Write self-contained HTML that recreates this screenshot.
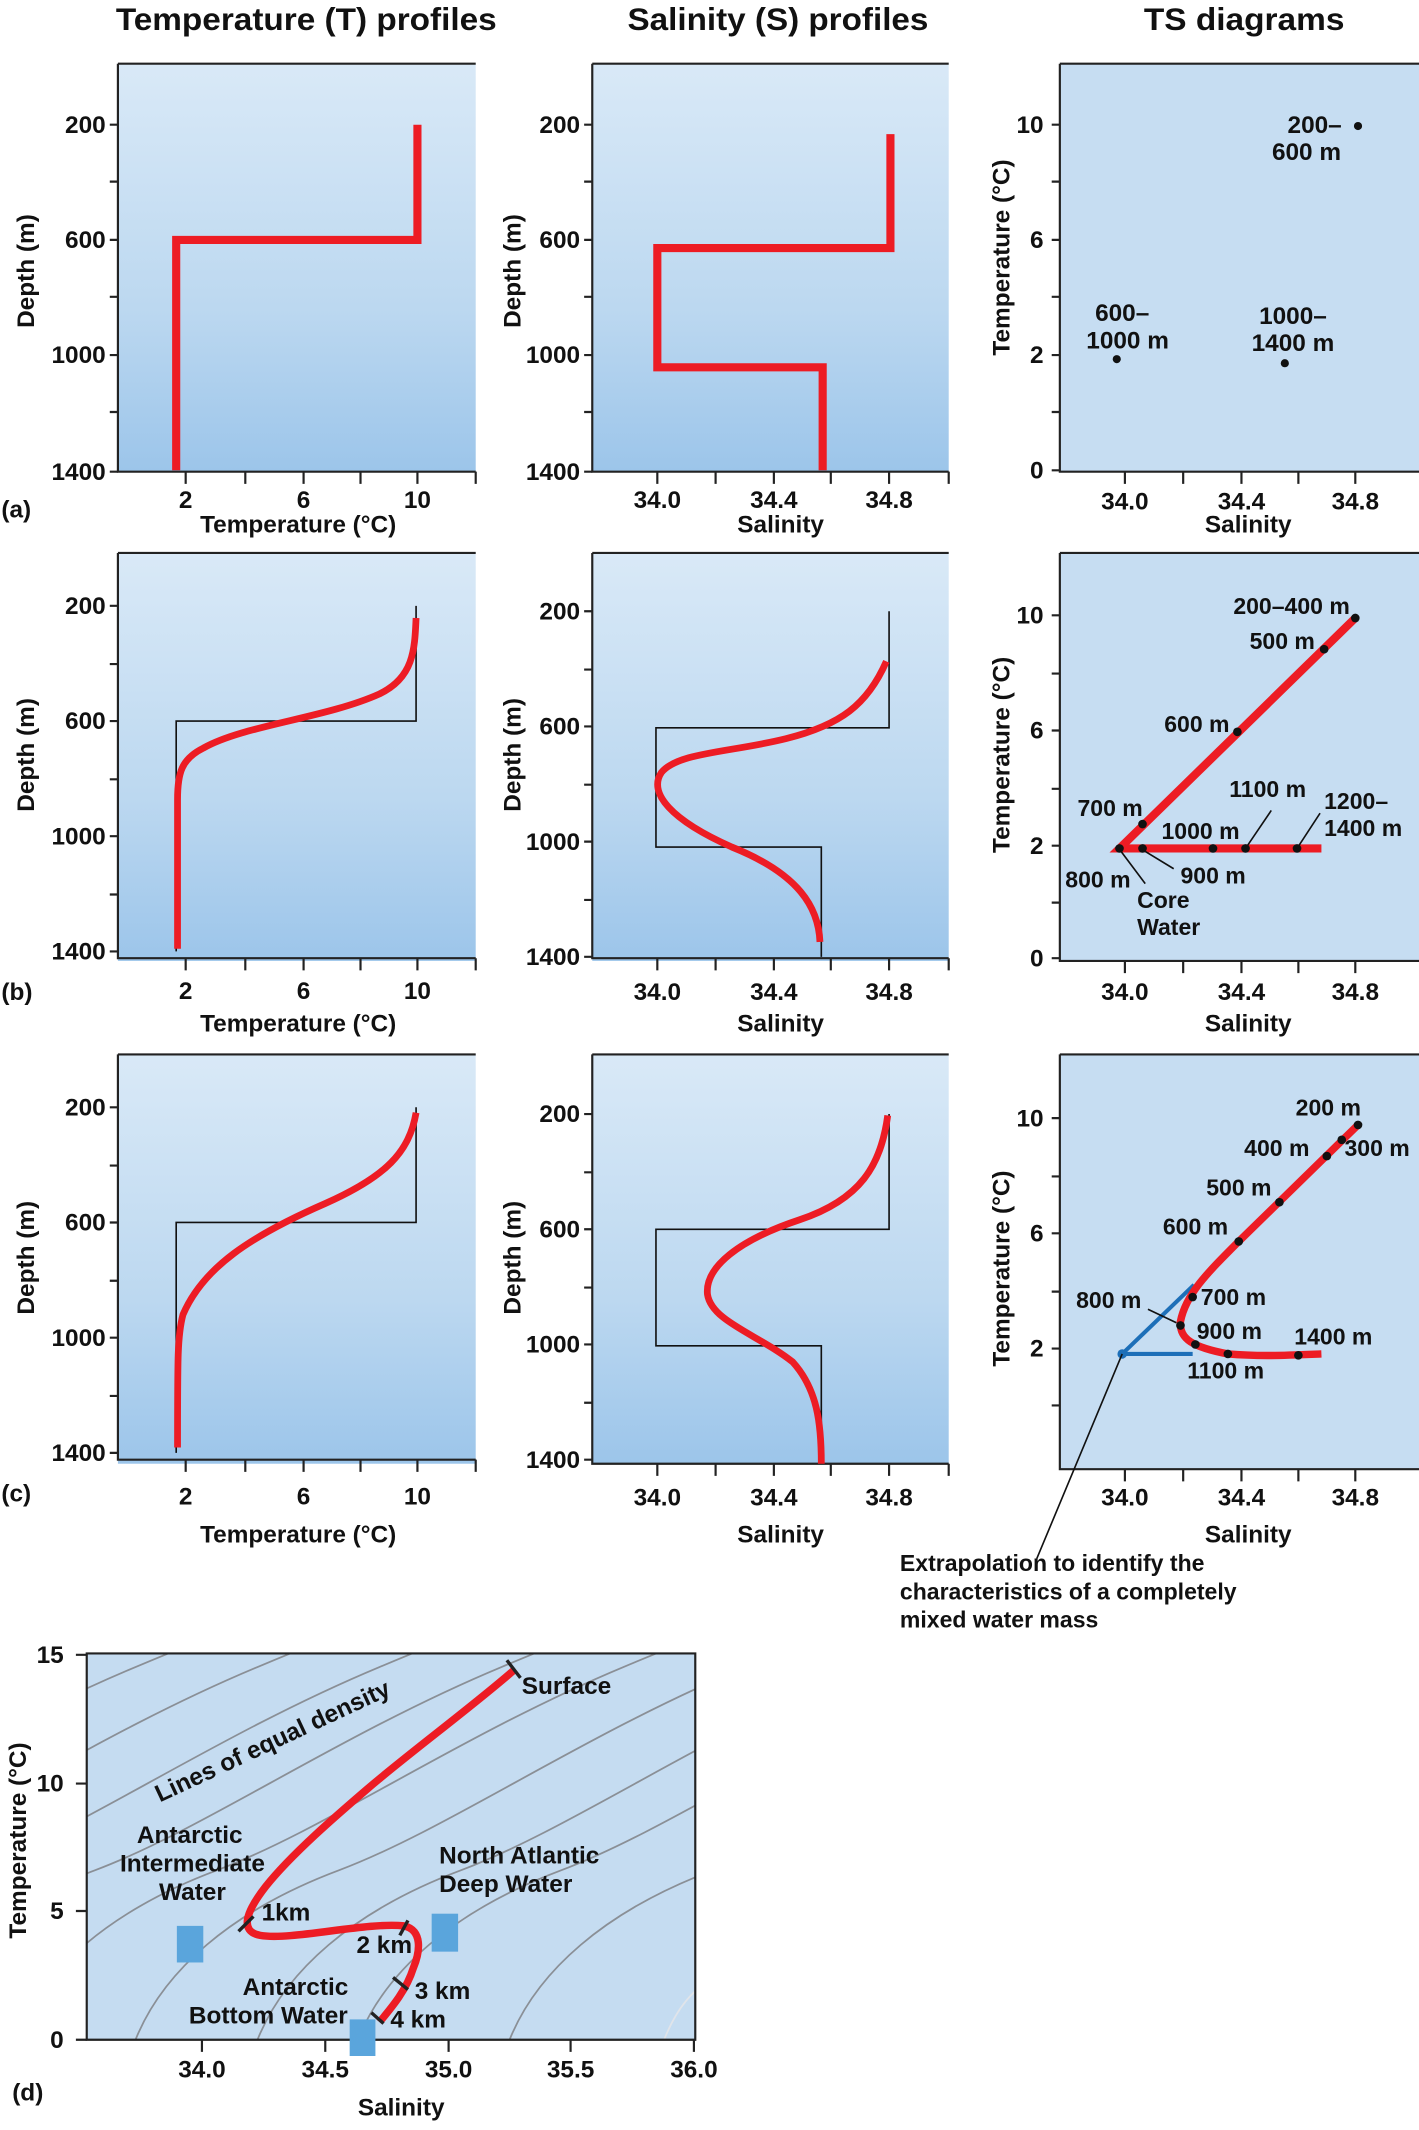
<!DOCTYPE html>
<html><head><meta charset="utf-8"><style>
html,body{margin:0;padding:0;background:#fff;}
svg{display:block;}
text{font-family:"Liberation Sans",sans-serif;font-weight:bold;fill:#111;}
</style></head><body>
<svg width="1419" height="2130" viewBox="0 0 1047 1571.6" xmlns="http://www.w3.org/2000/svg">
<defs>
<linearGradient id="g" x1="0" y1="0" x2="0" y2="1">
<stop offset="0" stop-color="#d9e9f7"/><stop offset="0.6" stop-color="#bcd8f0"/><stop offset="1" stop-color="#9cc5ea"/>
</linearGradient>
<clipPath id="dclip"><rect x="64" y="1220" width="449" height="285"/></clipPath>
</defs>

<text x="226" y="22" font-size="23" text-anchor="middle" textLength="281" lengthAdjust="spacingAndGlyphs">Temperature (T) profiles</text>
<text x="574" y="22" font-size="23" text-anchor="middle" textLength="222" lengthAdjust="spacingAndGlyphs">Salinity (S) profiles</text>
<text x="918" y="22" font-size="23" text-anchor="middle" textLength="148" lengthAdjust="spacingAndGlyphs">TS diagrams</text>

<rect x="87" y="47" width="264" height="301" fill="url(#g)"/>
<rect x="437" y="47" width="263" height="301" fill="url(#g)"/>
<rect x="782" y="47" width="265" height="301" fill="#c6ddf2"/>
<rect x="87" y="408" width="264" height="301" fill="url(#g)"/>
<rect x="437" y="408" width="263" height="301" fill="url(#g)"/>
<rect x="782" y="408" width="265" height="301" fill="#c6ddf2"/>
<rect x="87" y="778" width="264" height="302" fill="url(#g)"/>
<rect x="437" y="778" width="263" height="302" fill="url(#g)"/>
<rect x="782" y="778" width="265" height="306" fill="#c6ddf2"/>

<g stroke="#222" stroke-width="1.6" fill="none">
<path d="M87 47H351 M87 47V348H351 M437 47H700 M437 47V348H700 M782 47H1047 M782 47V348H1047"/>
<path d="M81 92H87M81 134H87M81 177H87M81 219H87M81 262H87M81 304H87M81 348H87"/>
<path d="M137 348V357M181 348V357M224 348V357M266 348V357M308 348V357M351 348V357"/>
<path d="M431 92H437M431 134H437M431 177H437M431 219H437M431 262H437M431 304H437M431 348H437"/>
<path d="M485 348V357M528 348V357M571 348V357M613 348V357M656 348V357M700 348V357"/>
<path d="M776 92H782M776 134H782M776 177H782M776 219H782M776 262H782M776 304H782M776 347H782"/>
<path d="M830 348V357M873 348V357M916 348V357M958 348V357M1000 348V357"/>
<path d="M87 408H351 M87 408V707H351 M437 408H700 M437 408V707H700 M782 408H1047 M782 408V709H1047"/>
<path d="M81 447H87M81 490H87M81 532H87M81 575H87M81 617H87M81 660H87M81 702H87"/>
<path d="M137 707V716M181 707V716M224 707V716M266 707V716M308 707V716M351 707V716"/>
<path d="M431 451H437M431 494H437M431 536H437M431 579H437M431 621H437M431 664H437M431 706H437"/>
<path d="M485 707V716M528 707V716M571 707V716M613 707V716M656 707V716M700 707V716"/>
<path d="M776 454H782M776 497H782M776 539H782M776 582H782M776 624H782M776 666H782M776 707H782"/>
<path d="M830 709V718M873 709V718M916 709V718M958 709V718M1000 709V718"/>
<path d="M87 778H351 M87 778V1077H351 M437 778H700 M437 778V1080H700 M782 778H1047 M782 778V1084H1047"/>
<path d="M81 817H87M81 860H87M81 902H87M81 945H87M81 987H87M81 1030H87M81 1072H87"/>
<path d="M137 1077V1086M181 1077V1086M224 1077V1086M266 1077V1086M308 1077V1086M351 1077V1086"/>
<path d="M431 822H437M431 865H437M431 907H437M431 950H437M431 992H437M431 1035H437M431 1077H437"/>
<path d="M485 1080V1089M528 1080V1089M571 1080V1089M613 1080V1089M656 1080V1089M700 1080V1089"/>
<path d="M776 825H782M776 868H782M776 910H782M776 953H782M776 995H782M776 1037H782"/>
<path d="M830 1084V1093M873 1084V1093M916 1084V1093M958 1084V1093M1000 1084V1093"/>
</g>

<g font-size="18" text-anchor="end">
<text x="78" y="98">200</text><text x="78" y="183">600</text><text x="78" y="268">1000</text><text x="78" y="354">1400</text>
<text x="428" y="98">200</text><text x="428" y="183">600</text><text x="428" y="268">1000</text><text x="428" y="354">1400</text>
<text x="770" y="98">10</text><text x="770" y="183">6</text><text x="770" y="268">2</text><text x="770" y="353">0</text>
<text x="78" y="453">200</text><text x="78" y="538">600</text><text x="78" y="623">1000</text><text x="78" y="708">1400</text>
<text x="428" y="457">200</text><text x="428" y="542">600</text><text x="428" y="627">1000</text><text x="428" y="712">1400</text>
<text x="770" y="460">10</text><text x="770" y="545">6</text><text x="770" y="630">2</text><text x="770" y="713">0</text>
<text x="78" y="823">200</text><text x="78" y="908">600</text><text x="78" y="993">1000</text><text x="78" y="1078">1400</text>
<text x="428" y="828">200</text><text x="428" y="913">600</text><text x="428" y="998">1000</text><text x="428" y="1083">1400</text>
<text x="770" y="831">10</text><text x="770" y="916">6</text><text x="770" y="1001">2</text>
</g>
<g font-size="18" text-anchor="middle">
<text x="137" y="375">2</text><text x="224" y="375">6</text><text x="308" y="375">10</text>
<text x="485" y="375">34.0</text><text x="571" y="375">34.4</text><text x="656" y="375">34.8</text>
<text x="830" y="376">34.0</text><text x="916" y="376">34.4</text><text x="1000" y="376">34.8</text>
<text x="220" y="393">Temperature (°C)</text><text x="576" y="393">Salinity</text><text x="921" y="393">Salinity</text>
<text x="137" y="737">2</text><text x="224" y="737">6</text><text x="308" y="737">10</text>
<text x="485" y="738">34.0</text><text x="571" y="738">34.4</text><text x="656" y="738">34.8</text>
<text x="830" y="738">34.0</text><text x="916" y="738">34.4</text><text x="1000" y="738">34.8</text>
<text x="220" y="761">Temperature (°C)</text><text x="576" y="761">Salinity</text><text x="921" y="761">Salinity</text>
<text x="137" y="1110">2</text><text x="224" y="1110">6</text><text x="308" y="1110">10</text>
<text x="485" y="1111">34.0</text><text x="571" y="1111">34.4</text><text x="656" y="1111">34.8</text>
<text x="830" y="1111">34.0</text><text x="916" y="1111">34.4</text><text x="1000" y="1111">34.8</text>
<text x="220" y="1138">Temperature (°C)</text><text x="576" y="1138">Salinity</text><text x="921" y="1138">Salinity</text>
</g>

<g font-size="18" text-anchor="middle">
<text transform="translate(25,200) rotate(-90)">Depth (m)</text>
<text transform="translate(384,200) rotate(-90)">Depth (m)</text>
<text transform="translate(745,190) rotate(-90)">Temperature (°C)</text>
<text transform="translate(25,557) rotate(-90)">Depth (m)</text>
<text transform="translate(384,557) rotate(-90)">Depth (m)</text>
<text transform="translate(745,557) rotate(-90)">Temperature (°C)</text>
<text transform="translate(25,928) rotate(-90)">Depth (m)</text>
<text transform="translate(384,928) rotate(-90)">Depth (m)</text>
<text transform="translate(745,936) rotate(-90)">Temperature (°C)</text>
</g>
<g font-size="18">
<text x="1" y="382">(a)</text><text x="1" y="738">(b)</text><text x="1" y="1108">(c)</text><text x="9" y="1550">(d)</text>
</g>

<path d="M308 92V177H130V347" stroke="#ed1c24" stroke-width="6" fill="none"/>
<path d="M657 99V183H485V271H607V347" stroke="#ed1c24" stroke-width="6" fill="none"/>
<g fill="#111"><circle cx="1002" cy="93" r="3"/><circle cx="824" cy="265" r="3"/><circle cx="948" cy="268" r="3"/></g>
<g font-size="18" text-anchor="middle">
<text x="970" y="98">200–</text><text x="964" y="118">600 m</text>
<text x="828" y="237">600–</text><text x="832" y="257">1000 m</text>
<text x="954" y="239">1000–</text><text x="954" y="259">1400 m</text>
</g>

<path d="M307 447V532H130V702" stroke="#111" stroke-width="1.2" fill="none"/>
<path d="M307 456C306 480 305 500 280 512C240 530 180 535 150 552C134 560 131 570 131 590V700" stroke="#ed1c24" stroke-width="5" fill="none"/>
<path d="M656 451V537H484V625H606V706" stroke="#111" stroke-width="1.2" fill="none"/>
<path d="M654 488C640 520 620 535 580 545C540 555 500 555 488 570C478 585 495 605 540 625C590 645 604 670 605 695" stroke="#ed1c24" stroke-width="5" fill="none"/>
<path d="M1000 456L826 626H975" stroke="#ed1c24" stroke-width="6" fill="none"/>
<g fill="#111">
<circle cx="1000" cy="456" r="3.2"/><circle cx="977" cy="479" r="3.2"/><circle cx="913" cy="540" r="3.2"/><circle cx="843" cy="608" r="3.2"/>
<circle cx="826" cy="626" r="3.2"/><circle cx="843" cy="626" r="3.2"/><circle cx="895" cy="626" r="3.2"/><circle cx="919" cy="626" r="3.2"/><circle cx="957" cy="626" r="3.2"/>
</g>
<path d="M919 626L938 598M957 626L974 600M827 628L845 652M843 627L866 641" stroke="#111" stroke-width="1.2" fill="none"/>
<g font-size="17">
<text x="910" y="453">200–400 m</text><text x="922" y="479">500 m</text><text x="859" y="540">600 m</text>
<text x="795" y="602">700 m</text><text x="907" y="588">1100 m</text><text x="977" y="597">1200–</text><text x="977" y="617">1400 m</text>
<text x="857" y="619">1000 m</text><text x="786" y="655">800 m</text><text x="871" y="652">900 m</text>
<text x="839" y="670">Core</text><text x="839" y="690">Water</text>
</g>

<path d="M307 817V902H130V1072" stroke="#111" stroke-width="1.2" fill="none"/>
<path d="M307 821C302 850 285 868 240 888C185 912 150 935 135 970C131 985 131 1000 131 1068" stroke="#ed1c24" stroke-width="5" fill="none"/>
<path d="M656 822V907H484V993H606V1077" stroke="#111" stroke-width="1.2" fill="none"/>
<path d="M655 823C650 860 635 885 590 900C545 915 520 935 522 955C525 975 560 985 585 1005C603 1025 606 1050 606 1080" stroke="#ed1c24" stroke-width="5" fill="none"/>
<path d="M828 999L881 948M828 999H880" stroke="#1d6fb8" stroke-width="3" fill="none"/>
<circle cx="828" cy="999" r="3.5" fill="#1d6fb8"/>
<path d="M1002 830L914 916C890 940 875 955 871 975C870 988 880 994 906 999C930 1001 950 1000 975 999" stroke="#ed1c24" stroke-width="5.5" fill="none"/>
<g fill="#111">
<circle cx="1002" cy="830" r="3.2"/><circle cx="990" cy="841" r="3.2"/><circle cx="979" cy="853" r="3.2"/><circle cx="944" cy="887" r="3.2"/>
<circle cx="914" cy="916" r="3.2"/><circle cx="880" cy="957" r="3.2"/><circle cx="871" cy="978" r="3.2"/><circle cx="882" cy="992" r="3.2"/>
<circle cx="906" cy="999" r="3.2"/><circle cx="958" cy="1000" r="3.2"/>
</g>
<path d="M828 999L765 1150M847 966L868 976" stroke="#111" stroke-width="1.2" fill="none"/>
<g font-size="17">
<text x="956" y="823">200 m</text><text x="992" y="853">300 m</text><text x="918" y="853">400 m</text>
<text x="890" y="882">500 m</text><text x="858" y="911">600 m</text><text x="886" y="963">700 m</text>
<text x="794" y="965">800 m</text><text x="883" y="988">900 m</text><text x="876" y="1017">1100 m</text><text x="955" y="992">1400 m</text>
<text x="664" y="1159">Extrapolation to identify the</text>
<text x="664" y="1180">characteristics of a completely</text>
<text x="664" y="1201">mixed water mass</text>
</g>

<!-- panel d -->
<rect x="64" y="1220" width="449" height="285" fill="#c5dcf1"/>
<g clip-path="url(#dclip)" stroke="#8a8f96" stroke-width="1.3" fill="none">
<path d="M-350 1505C-330 1455 -280 1410 -200 1380S-20 1280 100 1230S300 1150 400 1120"/>
<path d="M-260 1505C-240 1455 -190 1410 -110 1380S70 1280 190 1230S390 1150 490 1120"/>
<path d="M-170 1505C-150 1455 -100 1410 -20 1380S160 1280 280 1230S480 1150 580 1120"/>
<path d="M-80 1505C-60 1455 -10 1410 70 1380S250 1280 370 1230S570 1150 670 1120"/>
<path d="M10 1505C30 1455 80 1410 160 1380S340 1280 460 1230S660 1150 760 1120"/>
<path d="M100 1505C120 1455 170 1410 250 1380S430 1280 550 1230"/>
<path d="M190 1505C210 1455 260 1410 340 1380S520 1280 640 1230"/>
<path d="M264 1505C284 1455 334 1410 414 1380S594 1280 714 1230"/>
<path d="M376 1505C396 1455 446 1410 526 1380"/>
<path d="M490 1505C500 1480 510 1470 530 1455" stroke="#e0e4ea"/>
</g>
<path d="M64 1220H513V1505H64Z" stroke="#222" stroke-width="1.6" fill="none"/>
<path d="M56 1221H64M56 1316H64M56 1410H64M56 1505H64M149 1505V1514M240 1505V1514M331 1505V1514M421 1505V1514M512 1505V1514" stroke="#222" stroke-width="1.6"/>
<g fill="#5aa5dc">
<rect x="130.5" y="1421" width="19.5" height="27"/><rect x="318.5" y="1412" width="19.5" height="28"/><rect x="258" y="1490" width="19" height="27"/>
</g>
<path d="M379.6 1232C350 1258 300 1295 271 1320C250 1338 215 1368 196 1392C182 1410 176 1425 192 1428C215 1432 270 1418 298 1421C312 1424 310 1440 305 1452C300 1468 290 1480 280 1492" stroke="#ed1c24" stroke-width="5.5" fill="none"/>
<path d="M374 1225L384 1238M176 1425L187 1414M301 1417L295 1428M290 1459L301 1468M274 1485L283 1493" stroke="#222" stroke-width="2.5"/>
<g font-size="18">
<text x="385" y="1250">Surface</text>
<text transform="translate(118,1330) rotate(-25)">Lines of equal density</text>
<text x="140" y="1360" text-anchor="middle">Antarctic</text>
<text x="142" y="1381" text-anchor="middle">Intermediate</text>
<text x="142" y="1402" text-anchor="middle">Water</text>
<text x="324" y="1375">North Atlantic</text><text x="324" y="1396">Deep Water</text>
<text x="193" y="1417">1km</text><text x="263" y="1441">2 km</text><text x="306" y="1475">3 km</text><text x="288" y="1496">4 km</text>
<text x="218" y="1472" text-anchor="middle">Antarctic</text><text x="198" y="1493" text-anchor="middle">Bottom Water</text>
</g>
<g font-size="18">
<text x="47" y="1227" text-anchor="end">15</text><text x="47" y="1322" text-anchor="end">10</text><text x="47" y="1416" text-anchor="end">5</text><text x="47" y="1511" text-anchor="end">0</text>
<text x="149" y="1533" text-anchor="middle">34.0</text><text x="240" y="1533" text-anchor="middle">34.5</text><text x="331" y="1533" text-anchor="middle">35.0</text>
<text x="421" y="1533" text-anchor="middle">35.5</text><text x="512" y="1533" text-anchor="middle">36.0</text>
<text x="296" y="1561" text-anchor="middle">Salinity</text>
<text transform="translate(19,1358) rotate(-90)" text-anchor="middle">Temperature (°C)</text>
</g>
</svg>
</body></html>
